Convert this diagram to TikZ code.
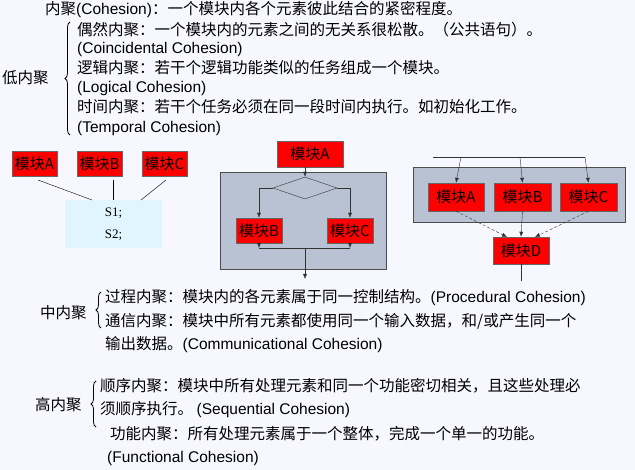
\documentclass[tikz,border=0pt]{standalone}
\usepackage{fontspec}
\setmainfont{Noto Sans CJK SC}
\newfontfamily\latf{Liberation Sans}
\newfontfamily\serf{Liberation Serif}
\newcommand\lat[1]{{\latf #1}}
\definecolor{gb}{HTML}{B9C2D2}
\usetikzlibrary{shapes.geometric,arrows.meta,decorations.pathreplacing}
\begin{document}
\begin{tikzpicture}[x=1pt,y=-1pt,
  txt/.style={anchor=west,inner sep=0pt,font=\fontsize{15.5}{17}\selectfont},
  mod/.style={draw=black!60,fill=red,inner sep=0pt,minimum height=25pt,font=\fontsize{15}{16}\selectfont},
  gbox/.style={draw=black!70,fill=gb,line width=1pt},
  ar/.style={-{Latex[length=5pt,width=4pt]},black!80},
  br/.style={decorate,decoration={brace,amplitude=5pt,mirror},thick}]
\useasboundingbox (0,0) rectangle (635,470);
\fill[blue!3] (0,0) rectangle (635,470);
% top text
\node[txt] (t0) at (45,10) {内聚\lat{(Cohesion)}：一个模块内各个元素彼此结合的紧密程度。};
\node[txt] (l1) at (77,30) {偶然内聚：一个模块内的元素之间的无关系很松散。（公共语句）。};
\node[txt] (l2) at (77,49) {\lat{(Coincidental Cohesion)}};
\node[txt] (l3) at (77,68) {逻辑内聚：若干个逻辑功能类似的任务组成一个模块。};
\node[txt] (l4) at (77,88) {\lat{(Logical Cohesion)}};
\node[txt] (l5) at (77,107) {时间内聚：若干个任务必须在同一段时间内执行。如初始化工作。};
\node[txt] (l6) at (77,128) {\lat{(Temporal Cohesion)}};
\node[txt] (low) at (2,78) {低内聚};
\draw[br] (70,22) -- (70,135);
% left diagram
\node[mod,minimum width=45pt] (a1) at (34.5,164) {模块A};
\node[mod,minimum width=45pt] (b1) at (99.5,164) {模块B};
\node[mod,minimum width=45pt] (c1) at (164.5,164) {模块C};
\node[fill=cyan!12,minimum width=97pt,minimum height=48pt,align=center,font=\serf\fontsize{13}{22}\selectfont] (s) at (113.5,224) {S1;\\S2;};
\draw (38,180) -- (92,200);
\draw (113,180) -- (113,200);
\draw (166,180) -- (141,200);
% middle
\draw[gbox] (220,173) rectangle (386,270);
\node[mod,minimum width=66pt,minimum height=26pt] (a2) at (310,154) {模块A};
\node[draw=black!80,diamond,aspect=3,minimum width=64pt,minimum height=22pt,inner sep=0pt] (d) at (305,188) {};
\node[mod,minimum width=46pt] (b2) at (259,230.5) {模块B};
\node[mod,minimum width=46pt] (c2) at (350,230.5) {模块C};
\draw[ar] (305,167) -- (d.north);
\draw[ar] (d.west) -| (b2.north);
\draw[ar] (d.east) -| (c2.north);
\draw[ar] (b2.south) -- (259,248);
\draw[ar] (c2.south) -- (350,248);
\draw[black!80] (259,248) -- (350,248);
\coordinate (mo) at (305,279);
\draw[ar] (305,248) -- (mo);
% right
\draw[black!80] (433,157) -- (585,157);
\draw[gbox] (413,168) rectangle (625,223);
\node[mod,minimum width=56pt,minimum height=28pt] (a3) at (456,197) {模块A};
\node[mod,minimum width=57pt,minimum height=28pt] (b3) at (522.5,197) {模块B};
\node[mod,minimum width=57pt,minimum height=28pt] (c3) at (588.5,197) {模块C};
\node[mod,minimum width=56pt,minimum height=27pt] (d3) at (521,250.5) {模块D};
\draw[ar] (461,157) -- (a3.north);
\draw[ar] (520,157) -- (b3.north);
\draw[ar] (585,157) -- (c3.north);
\draw[ar,densely dashed] (a3.south) -- (507,237);
\draw[ar] (b3.south) -- (d3.north);
\draw[ar,densely dashed] (c3.south) -- (535,237);
\coordinate (de) at (521,281);
\draw[black!80] (d3.south) -- (de);
% middle text
\node[txt] (mid) at (40,313) {中内聚};
\draw[br] (101,292) -- (101,328);
\node[txt] (m1) at (105,298) {过程内聚：模块内的各元素属于同一控制结构。\lat{(Procedural Cohesion)}};
\node[txt] (m2) at (105,321) {通信内聚：模块中所有元素都使用同一个输入数据，和/或产生同一个};
\node[txt] (m3) at (105,345) {输出数据。\lat{(Communicational Cohesion)}};
% high
\node[txt] (hi) at (35,405) {高内聚};
\draw[br] (96,381) -- (96,427);
\node[txt] (h1) at (100,386) {顺序内聚：模块中所有处理元素和同一个功能密切相关，且这些处理必};
\node[txt] (h2) at (100,410) {须顺序执行。 \lat{(Sequential Cohesion)}};
\node[txt] (h3) at (110,434) {功能内聚：所有处理元素属于一个整体，完成一个单一的功能。};
\node[txt] (h4) at (107,458) {\lat{(Functional Cohesion)}};
\end{tikzpicture}
\end{document}
